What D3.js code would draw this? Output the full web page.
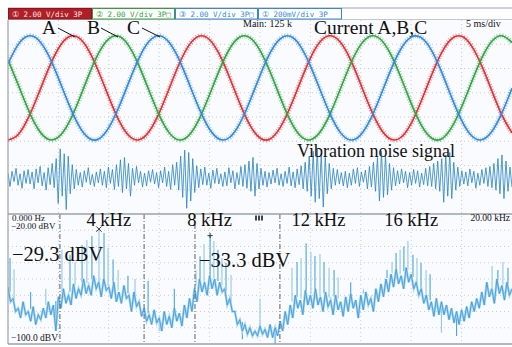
<!DOCTYPE html>
<html>
<head>
<meta charset="utf-8">
<script src="https://cdnjs.cloudflare.com/ajax/libs/d3/7.8.5/d3.min.js"></script>
<style>
  body { margin: 0; background: #fff; }
  svg { display: block; }
</style>
</head>
<body>
<div id="chart"></div>
<script>
// ---- data ----
// phase currents, volts, one sample per ms (5 ms/div, 10 div)
const sampleMs = 1;
const currentA = [-4.30,-3.86,-2.50,-0.55,1.53,3.25,4.20,4.14,3.10,1.33,-0.76,-2.68,-3.95,-4.28,-3.60,-2.06,-0.03,2.01,3.57,4.28,3.97,2.72,0.82,-1.28,-3.07,-4.13,-4.21,-3.28,-1.58,0.50,2.46,3.84,4.30,3.74,2.29,0.29,-1.77,-3.41,-4.24,-4.07,-2.92,-1.08,1.02,2.87,4.05,4.25,3.45,1.82,-0.23,-2.24,-3.71];
const currentB = [2.29,0.29,-1.78,-3.41,-4.24,-4.06,-2.92,-1.08,1.03,2.88,4.05,4.25,3.45,1.82,-0.24,-2.24,-3.71,-4.30,-3.86,-2.51,-0.55,1.53,3.25,4.20,4.14,3.10,1.33,-0.76,-2.68,-3.95,-4.28,-3.60,-2.06,-0.03,2.01,3.57,4.28,3.97,2.72,0.82,-1.28,-3.07,-4.13,-4.21,-3.28,-1.58,0.50,2.46,3.84,4.30,3.74];
const currentC = [2.01,3.57,4.28,3.97,2.72,0.81,-1.28,-3.07,-4.13,-4.21,-3.28,-1.58,0.50,2.46,3.84,4.30,3.74,2.29,0.29,-1.77,-3.41,-4.24,-4.07,-2.92,-1.08,1.02,2.88,4.05,4.25,3.45,1.82,-0.23,-2.24,-3.71,-4.30,-3.86,-2.51,-0.56,1.53,3.25,4.19,4.14,3.11,1.34,-0.76,-2.67,-3.95,-4.28,-3.60,-2.06,-0.03];

// vibration signal, mV (200 mV/div), over the same 50 ms
const noiseMv = [
  40,-70,55,-30,80,-60,35,-85,60,-45,70,-50,
  50,-90,75,-40,95,-65,45,-100,85,-55,120,-80,
  160,-210,240,-150,200,-260,180,-130,110,-90,70,-60,
  45,-75,60,-35,85,-55,30,-70,50,-40,75,-60,
  55,-80,90,-45,70,-95,110,-70,150,-120,170,-90,
  120,-150,80,-60,95,-40,55,-75,40,-65,60,-35,
  70,-50,45,-80,60,-40,90,-70,55,-95,110,-60,
  130,-100,180,-160,230,-250,210,-190,160,-120,100,-80,
  75,-55,90,-60,40,-85,65,-45,80,-50,35,-70,
  50,-65,85,-40,60,-90,45,-55,95,-70,110,-85,
  140,-110,170,-150,120,-90,80,-60,55,-75,45,-50,
  65,-40,80,-60,35,-70,55,-45,90,-65,50,-80,
  75,-55,100,-90,130,-110,180,-150,220,-200,240,-170,
  200,-240,170,-130,120,-90,80,-60,70,-50,45,-65,
  55,-80,40,-60,75,-45,85,-70,50,-35,65,-90,
  95,-75,130,-110,170,-190,220,-160,190,-140,120,-100,
  85,-65,60,-50,75,-40,55,-80,45,-60,70,-45,
  60,-75,40,-55,80,-65,95,-70,120,-90,140,-110,
  160,-200,190,-150,210,-170,130,-100,90,-70,60,-50,
  50,-65,75,-40,55,-85,40,-60,70,-45,85,-70,
  95,-80,120,-100,160,-130,190,-170,140,-110,90,-75
];

// spectrum noise floor, dBV: upper values every 0.2 kHz, dips halfway between
const floorStepKHz = 0.2;
const specFloorDb = [
  -65,-72,-78,-74,-80,-77,-82,-78,-74,-76,
  -71,-66,-70,-63,-66,-60,-64,-58,-62,-60,
  -65,-62,-68,-64,-70,-68,-74,-78,-82,-79,
  -84,-80,-83,-78,-81,-76,-72,-66,-60,-62,
  -58,-60,-62,-66,-72,-80,-85,-88,-90,-92,
  -89,-91,-88,-90,-86,-80,-76,-70,-73,-67,
  -70,-66,-71,-68,-73,-70,-74,-71,-69,-73,
  -70,-68,-72,-66,-63,-60,-57,-54,-58,-53,
  -57,-62,-66,-70,-74,-72,-74,-76,-78,-80,
  -79,-77,-74,-72,-68,-62,-66,-60,-64,-62,
  -66
];
const specDipDb = [
  -74,-80,-84,-82,-86,-88,-85,-84,-82,-92,
  -78,-75,-76,-72,-70,-69,-70,-66,-71,-67,
  -72,-74,-75,-72,-80,-77,-83,-86,-88,-87,
  -92,-88,-90,-86,-89,-84,-80,-74,-68,-70,
  -66,-70,-68,-76,-80,-88,-92,-94,-95,-95,
  -94,-96,-96,-95,-92,-88,-84,-78,-82,-76,
  -78,-76,-80,-77,-82,-79,-83,-80,-78,-84,
  -79,-76,-80,-74,-71,-68,-65,-63,-66,-62,
  -66,-70,-75,-79,-83,-82,-82,-85,-87,-88,
  -86,-84,-80,-78,-76,-71,-75,-69,-73,-70
];

// spectral lines: frequency (kHz) and level (dBV)
const peakKHz = [0.08,0.24,0.9,1.5,1.9,2.14,2.46,2.66,2.94,3.13,3.33,3.61,3.81,3.97,4.17,4.37,4.76,5.04,5.56,6.0,6.6,
  7.46,7.62,7.78,8.02,8.17,8.33,8.49,8.65,8.85,9.3,10.0,10.6,
  11.27,11.47,11.63,11.83,12.02,12.18,12.38,12.54,12.74,12.94,13.10,13.6,14.1,
  15.04,15.24,15.40,15.56,15.71,15.87,16.07,16.23,16.39,16.59,16.75,17.2,17.8,
  19.21,19.44,19.64,19.84];
const peakDb = [-47,-54,-68,-66,-92,-42,-45,-49.5,-39,-36,-33.5,-29.3,-31.7,-41,-48,-54.5,-58,-60,-61,-92,-66,
  -54.5,-46,-38.5,-33.3,-36.6,-42,-47,-50,-57.5,-97,-72,-100,
  -53,-49.5,-47,-38,-43.4,-45.8,-44.6,-49.5,-53,-54.5,-59,-62,-66,
  -54.5,-49.5,-44,-42,-40,-36.6,-45,-47,-50,-54.5,-57,-93,-95,
  -52,-54.5,-49.5,-53];

// cursor lines (kHz) and marker readouts
const cursorKHz = [2.06, 5.40, 7.42, 10.79];
const markers = [
  {f: 3.61, db: -29.3, shape: 'x', label: "\u221229.3 dBV"},
  {f: 8.02, db: -33.3, shape: '+', label: "\u221233.3 dBV"}
];
const freqLabels = [4, 8, 12, 16];

// ---- layout ----
const W = 512, H = 347;
const padL = 8, padR = 512, padT = 20, midY = 214, padB = 344;
const serif = '"Liberation Serif", "DejaVu Serif", serif';

const svg = d3.select('#chart').append('svg')
    .attr('width', W).attr('height', H);

const defs = svg.append('defs');
defs.append('clipPath').attr('id', 'clipT')
  .append('rect').attr('x', padL).attr('y', padT).attr('width', padR - padL).attr('height', midY - padT);
defs.append('clipPath').attr('id', 'clipF')
  .append('rect').attr('x', padL).attr('y', midY).attr('width', padR - padL).attr('height', padB - midY);

// screen background
svg.append('rect').attr('x', padL).attr('y', padT).attr('width', padR - padL).attr('height', padB - padT)
  .attr('fill', '#fafbff');

// scales
const xT = d3.scaleLinear().domain([0, 50]).range([padL, padR]);
const yCur = d3.scaleLinear().domain([-10.4, 5.6]).range([midY, padT]);       // 2 V/div, offset
const yNoise = d3.scaleLinear().domain([-297, 1303]).range([midY, padT]);     // 200 mV/div, offset
const xF = d3.scaleLinear().domain([0, 20]).range([padL, padR]);
const yF = d3.scaleLinear().domain([-100, -20]).range([padB, midY]);

// grid
const gridT = d3.scaleLinear().domain([0, 8]).range([padT, midY]);
const gridF = d3.scaleLinear().domain([0, 8]).range([midY, padB]);
const grid = svg.append('g').attr('stroke', '#c8ccd4').attr('stroke-dasharray', '1,3').attr('stroke-width', 1);
d3.range(1, 10).forEach(i => {
  grid.append('line').attr('x1', xT(i * 5)).attr('x2', xT(i * 5)).attr('y1', padT).attr('y2', padB);
});
d3.range(1, 8).forEach(i => {
  grid.append('line').attr('x1', padL).attr('x2', padR).attr('y1', gridT(i)).attr('y2', gridT(i));
  grid.append('line').attr('x1', padL).attr('x2', padR).attr('y1', gridF(i)).attr('y2', gridF(i));
});

// ---- time domain ----
const gT = svg.append('g').attr('clip-path', 'url(#clipT)');

const noiseStep = 50 / (noiseMv.length - 1);
const noiseLine = d3.line().x((d, i) => xT(i * noiseStep)).y(d => yNoise(d));
gT.append('path').datum(noiseMv).attr('d', noiseLine)
  .attr('fill', 'none').attr('stroke', '#2a84bf').attr('stroke-width', 0.9).attr('stroke-opacity', 0.9);

const curLine = d3.line().x((d, i) => xT(i * sampleMs)).y(d => yCur(d)).curve(d3.curveNatural);
const phases = [
  {data: currentA, color: '#dc3236'},
  {data: currentB, color: '#33a343'},
  {data: currentC, color: '#3389d8'}
];
phases.forEach(p => {
  gT.append('path').datum(p.data).attr('d', curLine)
    .attr('fill', 'none').attr('stroke', p.color).attr('stroke-width', 5)
    .attr('stroke-opacity', 0.45).attr('stroke-dasharray', '1,1.6');
  gT.append('path').datum(p.data).attr('d', curLine)
    .attr('fill', 'none').attr('stroke', p.color).attr('stroke-width', 1.6);
});

// ---- spectrum ----
const gF = svg.append('g').attr('clip-path', 'url(#clipF)');
const floorAt = d3.scaleLinear()
  .domain(specFloorDb.map((d, i) => i * floorStepKHz))
  .range(specFloorDb);

gF.selectAll('.spike').data(peakKHz).enter().append('line')
  .attr('class', 'spike')
  .attr('x1', d => xF(d)).attr('x2', d => xF(d))
  .attr('y1', d => yF(floorAt(d)))
  .attr('y2', (d, i) => yF(peakDb[i]))
  .attr('stroke', (d, i) => i % 2 ? '#92c8ea' : '#4aa4da')
  .attr('stroke-width', 1.1);

// floor trace: alternate the upper values and the dips between them
const floorPts = [];
specFloorDb.forEach((d, i) => {
  floorPts.push([i * floorStepKHz, d]);
  if (i < specDipDb.length) floorPts.push([i * floorStepKHz + floorStepKHz / 2, specDipDb[i]]);
});
const floorLine = d3.line().x(d => xF(d[0])).y(d => yF(d[1]));
gF.append('path').datum(floorPts).attr('d', floorLine)
  .attr('fill', 'none').attr('stroke', '#a8d4f0').attr('stroke-width', 2.4);
gF.append('path').datum(floorPts).attr('d', floorLine)
  .attr('fill', 'none').attr('stroke', '#3f9dd6').attr('stroke-width', 0.9);

// cursors
gF.selectAll('.cursor').data(cursorKHz).enter().append('line')
  .attr('x1', d => xF(d)).attr('x2', d => xF(d)).attr('y1', midY).attr('y2', padB)
  .attr('stroke', '#5a5f66').attr('stroke-width', 1).attr('stroke-dasharray', '5,2,1,2');

// frame lines
svg.append('line').attr('x1', padL).attr('x2', padR).attr('y1', midY).attr('y2', midY)
  .attr('stroke', '#9aa1ab').attr('stroke-width', 1.5);
svg.append('line').attr('x1', padL).attr('x2', padR).attr('y1', padB).attr('y2', padB)
  .attr('stroke', '#9aa1ab').attr('stroke-width', 1.5);
svg.append('line').attr('x1', padL).attr('x2', padL).attr('y1', padT).attr('y2', padB)
  .attr('stroke', '#9aa1ab').attr('stroke-width', 1.2);

// ---- header ----
svg.append('line').attr('x1', padL).attr('x2', W).attr('y1', 8).attr('y2', 8).attr('stroke', '#9aa1ab');
svg.append('line').attr('x1', padL).attr('x2', W).attr('y1', 19.5).attr('y2', 19.5).attr('stroke', '#c4c8d0');
const chBoxes = [
  {x: 8, w: 83, fill: '#b01f27', stroke: '#8c141b', text: '\u2460 2.00 V\u2215div 3P', color: '#fbe4e4'},
  {x: 92, w: 82, fill: '#fff', stroke: '#3a9a3f', text: '\u2461 2.00 V\u2215div 3P\u25A1', color: '#3a9a3f'},
  {x: 175, w: 82, fill: '#fff', stroke: '#3a88d0', text: '\u2462 2.00 V\u2215div 3P\u25A1', color: '#3a88d0'},
  {x: 258, w: 83, fill: '#fff', stroke: '#3a88d0', text: '\u2460 200mV\u2215div 3P', color: '#3a88d0'}
];
const hdr = svg.selectAll('.ch').data(chBoxes).enter().append('g');
hdr.append('rect').attr('x', d => d.x + 0.5).attr('y', 8.5).attr('width', d => d.w).attr('height', 10.5)
  .attr('fill', d => d.fill).attr('stroke', d => d.stroke);
hdr.append('text').attr('x', d => d.x + 4).attr('y', 16.5).text(d => d.text)
  .attr('fill', d => d.color).attr('font-family', '"DejaVu Sans Mono", monospace').attr('font-size', 7.5);

// ---- annotations ----
const txt = (x, y, s, size, anchor) => svg.append('text').attr('x', x).attr('y', y).text(s)
  .attr('font-family', serif).attr('font-size', size).attr('fill', '#111')
  .attr('text-anchor', anchor || 'start');

txt(243, 27, 'Main: 125 k', 10);
txt(466, 27, '5 ms/div', 10);
txt(314, 34, 'Current A,B,C', 19.5);
txt(297, 157, 'Vibration noise signal', 18);

const abc = [
  {s: 'A', x: 42, x1: 58, x2: 75},
  {s: 'B', x: 87, x1: 101, x2: 118},
  {s: 'C', x: 127, x1: 142, x2: 160}
];
abc.forEach(d => {
  txt(d.x, 34, d.s, 19.5);
  svg.append('line').attr('x1', d.x1).attr('y1', 28).attr('x2', d.x2).attr('y2', 37)
    .attr('stroke', '#111').attr('stroke-width', 1);
});

// spectrum labels
txt(12, 220.5, '0.000 Hz', 9);
txt(11, 229, '\u221220.00 dBV', 9);
txt(11, 341, '\u2212100.0 dBV', 9.5);
txt(510, 220.5, '20.00 kHz', 9.5, 'end');
freqLabels.forEach(f => txt(xF(f) + (f === 12 ? 8 : 0), 226, f + ' kHz', 18.5, 'middle'));
// small trigger icon
[0, 3, 6].forEach(dx => svg.append('rect').attr('x', 255 + dx).attr('y', 215.5).attr('width', 2)
  .attr('height', 5).attr('fill', '#444'));

// marker symbols drawn as short strokes at the readout points
markers.forEach(m => {
  const cx = xF(m.f), cy = yF(m.db), r = 2.6;
  const segs = m.shape === 'x'
    ? [[-r, -r, r, r], [-r, r, r, -r]]
    : [[-r, 0, r, 0], [0, -r, 0, r]];
  segs.forEach(s => svg.append('line')
    .attr('x1', cx + s[0]).attr('y1', cy + s[1]).attr('x2', cx + s[2]).attr('y2', cy + s[3])
    .attr('stroke', '#333').attr('stroke-width', 1));
});
txt(12, 261, markers[0].label, 20.5);
txt(199, 267, markers[1].label, 20.5);
</script>
</body>
</html>
